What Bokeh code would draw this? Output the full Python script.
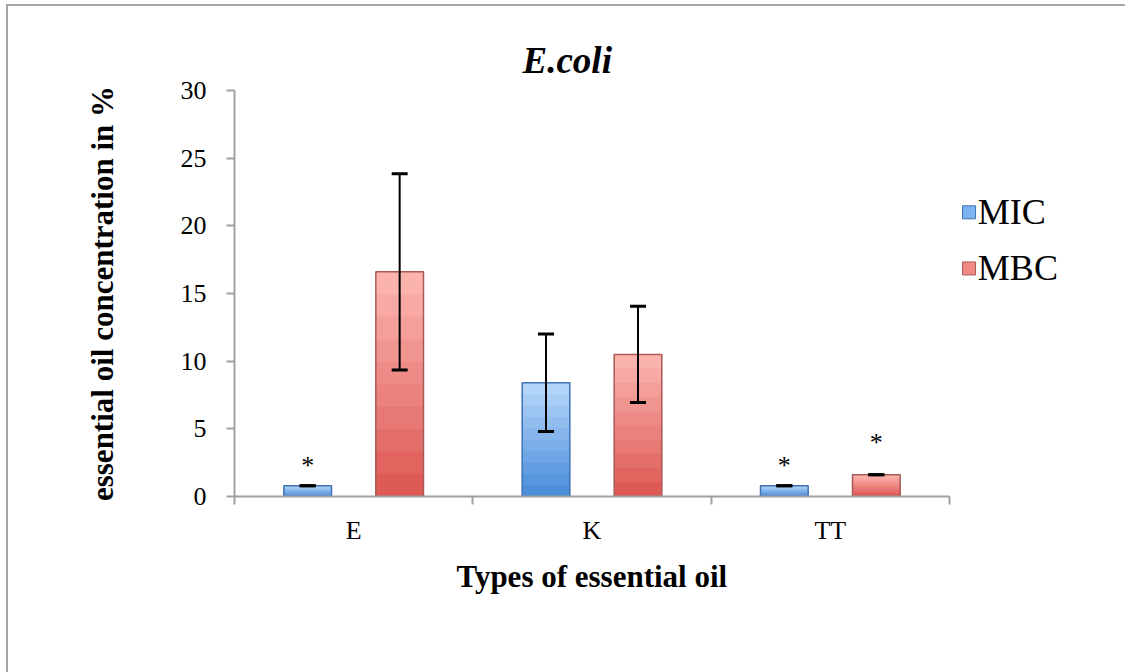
import numpy as np
from bokeh.plotting import figure
from bokeh.models import (ColumnDataSource, Range1d, FixedTicker, Whisker, TeeHead, Title)
from bokeh.core.properties import value
from bokeh.embed import file_html
from bokeh.resources import INLINE

# ---- data ----
categories = ["E", "K", "TT"]
series = ["MIC", "MBC"]
mic = [0.8, 8.4, 0.8]
mbc = [16.6, 10.5, 1.6]
mic_err = [0.0, 3.6, 0.0]
mbc_err = [7.25, 3.55, 0.0]
mic_sig = ["*", "", "*"]
mbc_sig = ["", "", "*"]
y_ticks = [0, 5, 10, 15, 20, 25, 30]

SERIF = "Liberation Serif"
n = len(categories)
idx = np.arange(n)
centers = idx + 0.5
OFF = 0.193
BW = 0.2

# plot area: categories take 715 px, extra room on the right holds the legend
FW_CAT = 715
FW = 891
p = figure(frame_width=FW, frame_height=406, output_backend="svg",
           toolbar_location=None,
           x_range=Range1d(0, n * FW / FW_CAT), y_range=Range1d(0, 30),
           min_border_left=226, min_border_right=0, min_border_top=84,
           min_border_bottom=176)
p.styles = {"border-left": "2px solid #a6a6a6", "border-top": "2px solid #a6a6a6",
            "margin-left": "6px", "margin-top": "4px"}
p.outline_line_color = None
p.xgrid.visible = False
p.ygrid.visible = False
p.background_fill_color = "white"
p.border_fill_color = "white"

p.title = Title(text="E.coli", align="left", text_font=SERIF,
                text_font_size="37px", text_font_style="bold italic",
                text_color="black", offset=288, standoff=19)


def shade(c1, c2, t):
    a = np.array([int(c1[i:i + 2], 16) for i in (1, 3, 5)])
    b = np.array([int(c2[i:i + 2], 16) for i in (1, 3, 5)])
    r = (a + (b - a) * t).round().astype(int)
    return "#%02x%02x%02x" % tuple(r)


def bars(xs, vals, light, dark, edge, sig, err, sig_off):
    vals = np.array(vals, dtype=float)
    N = 10
    for k in range(N):
        frac = 1 - k / N
        src = ColumnDataSource(dict(x=xs, top=vals * frac))
        p.vbar(x="x", top="top", bottom=0, width=BW, source=src,
               fill_color=shade(light, dark, k / (N - 1)), line_color=None)
    src = ColumnDataSource(dict(x=xs, top=vals))
    p.vbar(x="x", top="top", bottom=0, width=BW, source=src,
           fill_color=None, line_color=edge, line_width=1.5)
    esrc = ColumnDataSource(dict(x=xs, upper=vals + np.array(err),
                                 lower=vals - np.array(err)))
    w = Whisker(base="x", upper="upper", lower="lower", source=esrc,
                line_color="black", line_width=2, level="overlay",
                upper_head=TeeHead(size=16, line_width=3, line_color="black"),
                lower_head=TeeHead(size=16, line_width=3, line_color="black"))
    p.add_layout(w)
    ssrc = ColumnDataSource(dict(x=xs, y=vals + sig_off, t=sig))
    p.text(x="x", y="y", text="t", source=ssrc, text_align="center",
           text_baseline="middle", text_font_size="26px",
           text_font=value(SERIF), text_color="black")


bars(centers - OFF, mic, "#b3d5f9", "#4d8edb", "#3f72b5", mic_sig, mic_err, 1.5)
bars(centers + OFF, mbc, "#fbb3ae", "#de5a55", "#a85a56", mbc_sig, mbc_err, 2.4)

# legend (drawn in the empty area right of the categories)
leg_x = n + 0.082
leg_y = np.array([21.0, 16.85])
lsrc = ColumnDataSource(dict(x=[leg_x] * 2, y=leg_y, t=series,
                             c=["#7db3ee", "#f08a84"], e=["#3f72b5", "#a85a56"]))
p.scatter(x="x", y="y", source=lsrc, marker="square", size=13,
          fill_color="c", line_color="e", line_width=1)
lsrc2 = ColumnDataSource(dict(x=[leg_x + 0.037] * 2, y=leg_y, t=series))
p.text(x="x", y="y", text="t", source=lsrc2, text_align="left",
       text_baseline="middle", text_font_size="36px",
       text_font=value(SERIF), text_color="black")

# axes
ax = p.xaxis[0]
ax.bounds = (0, n)
ax.ticker = FixedTicker(ticks=list(centers), minor_ticks=list(range(n + 1)))
ax.major_label_overrides = {float(c): s for c, s in zip(centers, categories)}
ax.major_tick_out = 0
ax.major_tick_in = 0
ax.minor_tick_out = 8
ax.minor_tick_in = 0
ax.minor_tick_line_color = "#a0a0a0"
ax.minor_tick_line_width = 2
ax.axis_line_color = "#a0a0a0"
ax.axis_line_width = 2
ax.major_label_text_font = SERIF
ax.major_label_text_font_size = "26px"
ax.major_label_text_color = "black"
ax.major_label_standoff = 11

# x-axis title, centred under the category part of the axis
p.add_layout(Title(text="Types of essential oil", align="left", text_font=SERIF,
                   text_font_size="31px", text_font_style="bold",
                   text_color="black", offset=222, standoff=18), "below")

ay = p.yaxis[0]
ay.ticker = FixedTicker(ticks=y_ticks)
ay.major_tick_out = 8
ay.major_tick_in = 0
ay.minor_tick_out = 0
ay.minor_tick_in = 0
ay.major_tick_line_color = "#a0a0a0"
ay.major_tick_line_width = 2
ay.axis_line_color = "#a0a0a0"
ay.axis_line_width = 2
ay.major_label_text_font = SERIF
ay.major_label_text_font_size = "26px"
ay.major_label_text_color = "black"
ay.major_label_standoff = 20
ay.axis_label = "essential oil concentration in %"
ay.axis_label_text_font = SERIF
ay.axis_label_text_font_size = "31px"
ay.axis_label_text_font_style = "bold"
ay.axis_label_text_color = "black"
ay.axis_label_standoff = 58

open("out.html", "w").write(file_html(p, INLINE))
